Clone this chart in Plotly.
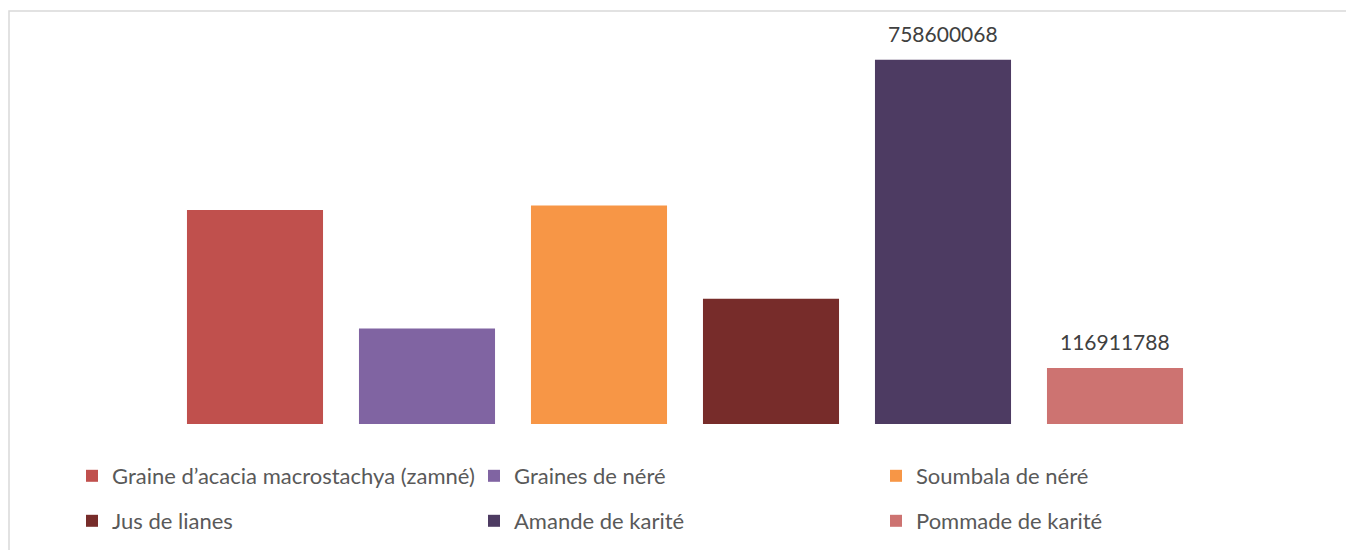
import plotly.graph_objects as go

# produits et valeurs
produits = [
    "Graine d\u2019acacia macrostachya (zamné)",
    "Graines de néré",
    "Soumbala de néré",
    "Jus de lianes",
    "Amande de karité",
    "Pommade de karité",
]
valeurs = [446000000, 199000000, 455000000, 261000000, 758600068, 116911788]
afficher_etiquette = [False, False, False, False, True, True]
couleurs = ["#C0504D", "#8064A2", "#F79646", "#772C2A", "#4D3B62", "#CD7371"]

W, H = 1354, 550
# la page ajoute 8px de marge (body), donc tout est décalé de 8px
ml, mt, pw, ph = 161, 32, 1032, 384
mr, mb = W - ml - pw, H - mt - ph

# légende sur 2 lignes x 3 colonnes (pixels de la figure)
leg_cols = [64, 466, 868]
leg_rows = [468, 513]
legend_ids = ["legend", "legend2", "legend3", "legend4", "legend5", "legend6"]

fig = go.Figure()
for i, (nom, val, col) in enumerate(zip(produits, valeurs, couleurs)):
    fig.add_trace(go.Bar(
        x=[nom], y=[val], name=nom,
        marker=dict(color=col, line=dict(width=0)),
        legend=legend_ids[i],
        hoverinfo="x+y",
    ))

for nom, val, aff in zip(produits, valeurs, afficher_etiquette):
    if aff:
        fig.add_annotation(
            x=nom, y=val, text=str(val), showarrow=False,
            yanchor="middle", yshift=26,
            font=dict(family="Lato", size=21, color="#404040"),
        )

# cadre gris clair (bord du graphique)
fig.add_shape(
    type="rect", xref="paper", yref="paper",
    x0=(1 - ml) / pw, x1=(W + 30 - ml) / pw,
    y0=(mt + ph - (H + 30)) / ph, y1=(mt + ph - 3) / ph,
    line=dict(color="#D9D9D9", width=1.5), fillcolor="rgba(0,0,0,0)",
    layer="below",
)

legend_font = dict(family="Lato", size=22, color="#595959")
legends = {}
for i, lid in enumerate(legend_ids):
    legends[lid] = dict(
        orientation="h",
        x=(leg_cols[i % 3] - ml) / pw, xanchor="left",
        y=(mt + ph - leg_rows[i // 3]) / ph, yanchor="middle",
        font=legend_font, itemwidth=30, bgcolor="rgba(0,0,0,0)",
    )

fig.update_layout(
    width=W, height=H,
    margin=dict(l=ml, r=mr, t=mt, b=mb, autoexpand=False),
    paper_bgcolor="white", plot_bgcolor="white",
    bargap=0.209,
    xaxis=dict(showticklabels=False, showgrid=False, zeroline=False, showline=False, ticks=""),
    yaxis=dict(range=[0, 800000000], visible=False, showgrid=False, zeroline=False),
    showlegend=True,
    **legends,
)

fig.write_html("out.html")
